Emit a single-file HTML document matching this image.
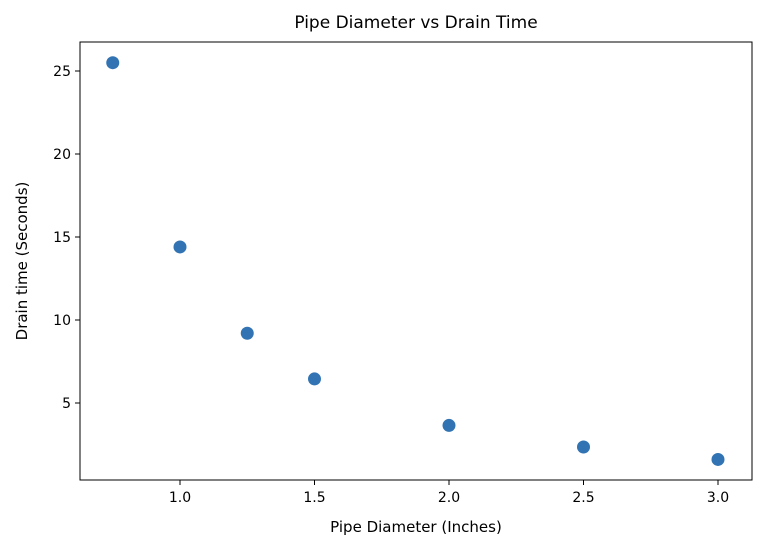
<!DOCTYPE html>
<html><head><meta charset="utf-8"><style>
html,body{margin:0;padding:0;background:#fff;width:764px;height:546px;overflow:hidden}
svg{display:block;font-family:"DejaVu Sans","Liberation Sans",sans-serif}
</style></head><body>
<svg id="chart" width="764" height="546" viewBox="0 0 764 546"></svg>
<script>
const diameters = [0.75, 1.0, 1.25, 1.5, 2.0, 2.5, 3.0];
const drainTimes = [25.5, 14.4, 9.2, 6.45, 3.65, 2.35, 1.6];
const xTicks = [1.0, 1.5, 2.0, 2.5, 3.0];
const xTickLabels = ["1.0", "1.5", "2.0", "2.5", "3.0"];
const yTicks = [5, 10, 15, 20, 25];
const yTickLabels = ["5", "10", "15", "20", "25"];

const L = 80, R = 752, T = 42, B = 480;
function xs(v){ return 180 + (v - 1.0) * 269; }
function ys(v){ return 486 - v * 16.6; }
const NS = "http://www.w3.org/2000/svg";
const svg = document.getElementById('chart');
function mk(tag, attrs, parent){
  const e = document.createElementNS(NS, tag);
  for (const k in attrs) e.setAttribute(k, attrs[k]);
  (parent || svg).appendChild(e);
  return e;
}

const title = mk('text', {x: (L+R)/2, y: 28, 'text-anchor': 'middle', 'font-size': 17, fill: '#000'});
title.textContent = 'Pipe Diameter vs Drain Time';



const pts = mk('g', {});


diameters.forEach((d, i) => {
  const c = mk('circle', {cx: xs(d), cy: ys(drainTimes[i]), r: 6.5, fill: '#3274b3'}, pts);
  
  
});

const frame = mk('rect', {x: L, y: T, width: R-L, height: B-T, fill: 'none', stroke: '#000', 'stroke-width': 1});



const xAxis = mk('g', {});


xTicks.forEach((t, i) => {
  const x = xs(t);
  mk('line', {x1: x, x2: x, y1: B, y2: B+5, stroke: '#000'}, xAxis);
  const tx = mk('text', {x: x, y: B+22, 'text-anchor': 'middle', 'font-size': 14, fill: '#000'}, xAxis);
  tx.textContent = xTickLabels[i];
  
  
});
const yAxis = mk('g', {});


yTicks.forEach((t, i) => {
  const y = ys(t);
  mk('line', {x1: L-5, x2: L, y1: y, y2: y, stroke: '#000'}, yAxis);
  const tx = mk('text', {x: L-9, y: y+5, 'text-anchor': 'end', 'font-size': 14, fill: '#000'}, yAxis);
  tx.textContent = yTickLabels[i];
  
  
});

const xt = mk('text', {x: (L+R)/2, y: 532, 'text-anchor': 'middle', 'font-size': 15, fill: '#000'});
xt.textContent = 'Pipe Diameter (Inches)';


const yt = mk('text', {x: 0, y: 0, 'text-anchor': 'middle', 'font-size': 15, fill: '#000', transform: 'translate(27,' + ((T+B)/2) + ') rotate(-90)'});
yt.textContent = 'Drain time (Seconds)';


</script>
</body></html>
